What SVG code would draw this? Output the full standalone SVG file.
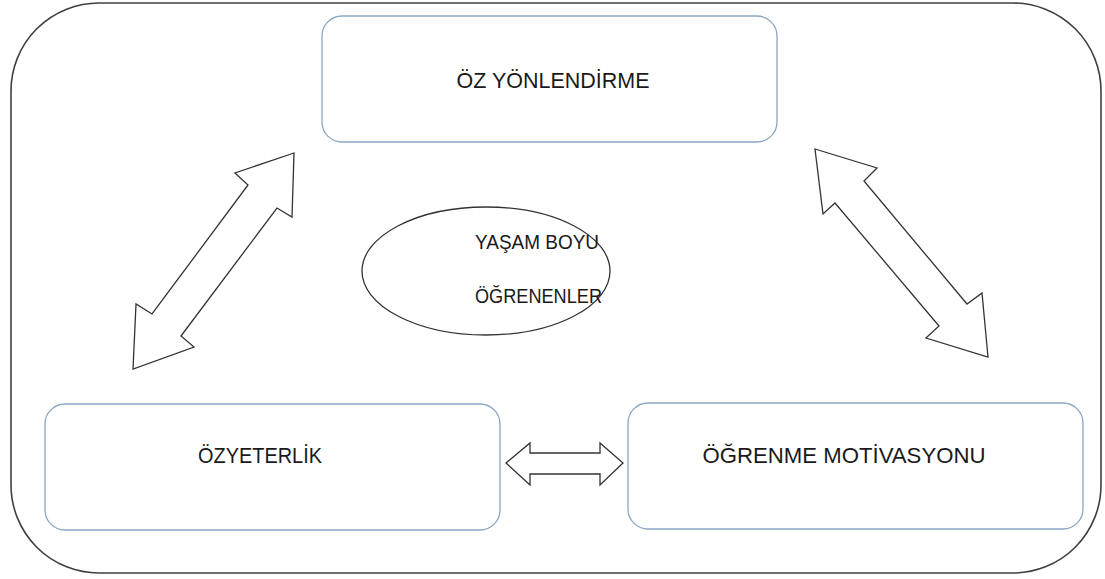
<svg xmlns="http://www.w3.org/2000/svg" width="1105" height="579" viewBox="0 0 1105 579">
<style>
.box{fill:#fff;stroke:#8aa6c1;stroke-width:1.3}
.outer{fill:#fff;stroke:#404040;stroke-width:1.6}
.arrow{fill:#fff;stroke:#333;stroke-width:1.3;stroke-linejoin:miter}
.lbl{font-family:"Liberation Sans",Arial,sans-serif;font-size:21.5px;fill:#1a1a1a}
.elbl{font-family:"Liberation Sans",Arial,sans-serif;font-size:21px;fill:#1a1a1a}
</style>
<rect width="1105" height="579" fill="#fff"/>
<rect class="outer" x="11" y="3" width="1090" height="570" rx="88" ry="88"/>
<g id="oz-yonlendirme">
<rect class="box" x="322" y="16" width="455" height="126" rx="20" ry="20"/>
<text class="lbl" x="553" y="88" text-anchor="middle" textLength="193" lengthAdjust="spacingAndGlyphs">ÖZ YÖNLENDİRME</text>
</g>
<g id="yasam-boyu">
<ellipse cx="486" cy="271" rx="124" ry="64" fill="#fff" stroke="#333" stroke-width="1.3"/>
<text class="elbl" x="475" y="249" textLength="124" lengthAdjust="spacingAndGlyphs">YAŞAM BOYU</text>
<text class="elbl" x="475" y="303" textLength="127" lengthAdjust="spacingAndGlyphs">ÖĞRENENLER</text>
</g>
<g id="ozyeterlik">
<rect class="box" x="45" y="404" width="455" height="126" rx="20" ry="20"/>
<text class="lbl" x="260" y="463" text-anchor="middle" textLength="124" lengthAdjust="spacingAndGlyphs">ÖZYETERLİK</text>
</g>
<g id="ogrenme-motivasyonu">
<rect class="box" x="628" y="403" width="455" height="126" rx="20" ry="20"/>
<text class="lbl" x="844" y="463" text-anchor="middle" textLength="283" lengthAdjust="spacingAndGlyphs">ÖĞRENME MOTİVASYONU</text>
</g>
<g id="connectors">
<polygon class="arrow" points="294,153 235,173 248,185 152,314 136,304 133,369 194,347 181,336 277,208 292,217"/>
<polygon class="arrow" points="815,149 877,168 864,181 967,304 982,293 988,357 926,338 939,326 835,203 823,214"/>
<polygon class="arrow" points="506,463 530,443 530,453 600,453 600,443 623,463 600,485 600,474 530,474 530,485"/>
</g>
</svg>
